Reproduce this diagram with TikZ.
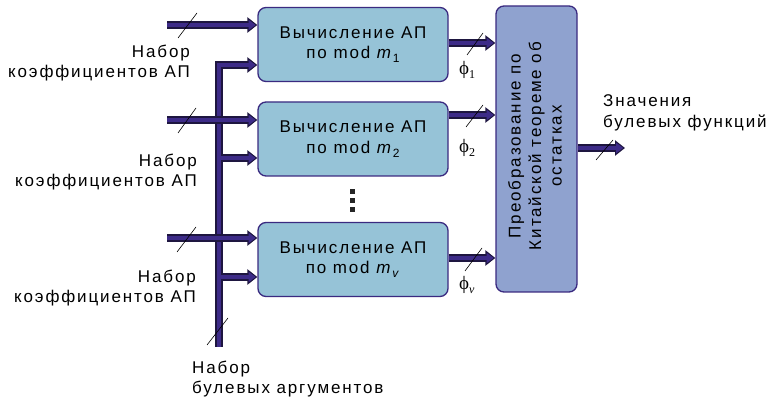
\documentclass[tikz,border=0pt]{standalone}
\usepackage{fontspec}
\setmainfont{Liberation Sans}[LetterSpace=11]
\newfontfamily\serifgr{Liberation Serif}
\usetikzlibrary{arrows.meta}
\definecolor{boxfill}{HTML}{96C3D7}
\definecolor{bigfill}{HTML}{8FA2CF}
\definecolor{edge}{HTML}{3A2A80}
\definecolor{busin}{HTML}{3D2B88}
\definecolor{busout}{HTML}{1E1640}
\newcommand{\sub}[1]{\raisebox{-4pt}{\fontsize{12}{12}\selectfont #1}}
\begin{document}
\begin{tikzpicture}[x=1pt,y=-1pt,
  every node/.style={font=\fontsize{17}{20.5}\selectfont, inner sep=0pt},
  calc/.style={draw=edge, line width=1.3pt, fill=boxfill, rounded corners=8pt, minimum width=190pt, minimum height=74pt, align=center},
  crt/.style={draw=edge, line width=1.3pt, fill=bigfill, rounded corners=8pt, minimum width=81pt, minimum height=286pt},
  bus/.style={line width=4.5pt, draw=busin, -{Triangle[length=7pt,width=10pt]}, shorten >=1.8pt,
    preaction={draw=busout, line width=7.5pt, -{Triangle[length=10pt,width=15pt]}, shorten >=0pt}},
  slash/.style={draw=black, line width=0.6pt},
  lbl/.style={align=right, anchor=east},
  phil/.style={font=\serifgr\fontsize{19}{20}\selectfont}
]
\useasboundingbox (0,0) rectangle (769,403);

% boxes
\node[calc] (b1) at (353,44.5) {Вычисление АП\\по mod \textit{m}\sub{1}};
\node[calc] (b2) at (353,139) {Вычисление АП\\по mod \textit{m}\sub{2}};
\node[calc] (b3) at (353,259.5) {Вычисление АП\\по mod \textit{m}\sub{\textit{v}}};
\node[crt] (crt) at (536.5,149) {};
\node[rotate=90, align=center] (crtt) at (535,146) {Преобразование по\\Китайской теореме об\\остатках};

% coordinates
\coordinate (busb) at (219,347);
\coordinate (bust) at (219,65);
\coordinate (j2) at (221,158);
\coordinate (j3) at (221,277);
\coordinate (c1) at (167,25);
\coordinate (c2) at (167,120);
\coordinate (c3) at (167,238);
\coordinate (out) at (625,148);

% boolean bus
\draw[bus] (busb) -- (bust) -- (b1.west |- bust);
\draw[bus] (j2) -- (b2.west |- j2);
\draw[bus] (j3) -- (b3.west |- j3);

% coefficient inputs
\draw[bus] (c1) -- (b1.west |- c1);
\draw[bus] (c2) -- (b2.west |- c2);
\draw[bus] (c3) -- (b3.west |- c3);

% outputs to CRT
\draw[bus] (b1.east |- 0,43) -- (crt.west |- 0,43);
\draw[bus] (b2.east |- 0,115) -- (crt.west |- 0,115);
\draw[bus] (b3.east |- 0,258) -- (crt.west |- 0,258);
\draw[bus] (crt.east |- out) -- (out);

% slashes
\draw[slash] (178,38) -- (197,13);
\draw[slash] (178,133) -- (196,108);
\draw[slash] (177,252) -- (196,227);
\draw[slash] (207,345) -- (228,318);
\draw[slash] (467,55) -- (483,33);
\draw[slash] (466,127) -- (483,105);
\draw[slash] (465,271) -- (482,248);
\draw[slash] (596,160) -- (613,140);

% phi labels
\node[phil, anchor=west] (p1) at (459,70) {ϕ\sub{1}};
\node[phil, anchor=west] (p2) at (459,148) {ϕ\sub{2}};
\node[phil, anchor=west] (p3) at (459,285) {ϕ\sub{\textit{ν}}};

% dots
\fill[black!85] (350,189) rectangle (355,194);
\fill[black!85] (350,198) rectangle (355,203);
\fill[black!85] (350,207) rectangle (355,212);

% left labels
\node[lbl] (l1) at (190,63) {Набор\\коэффициентов АП};
\node[lbl] (l2) at (197,172) {Набор\\коэффициентов АП};
\node[lbl] (l3) at (196,288) {Набор\\коэффициентов АП};
\node[align=left, anchor=west] (l4) at (192,379) {Набор\\булевых аргументов};
\node[align=left, anchor=west] (l5) at (603,113) {Значения\\булевых функций};
\end{tikzpicture}
\end{document}
